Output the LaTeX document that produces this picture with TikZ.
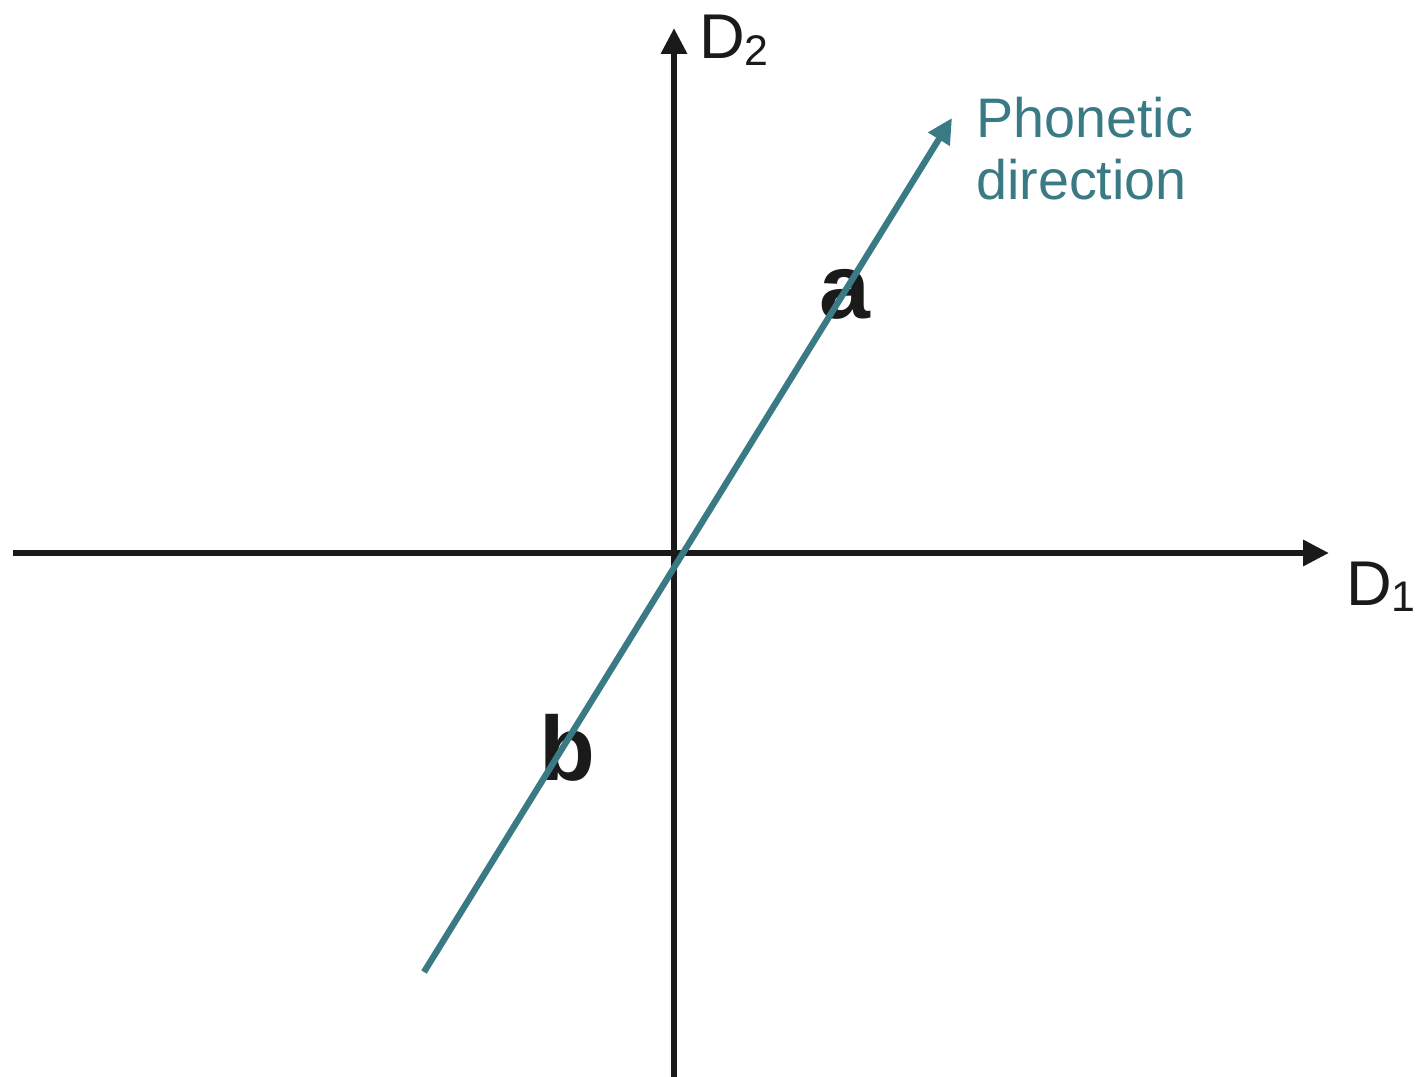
\documentclass[tikz,border=0pt]{standalone}
\usepackage{fontspec}
\setmainfont{Liberation Sans}
\usetikzlibrary{arrows.meta,positioning}
\definecolor{phon}{RGB}{58,122,132}
\definecolor{ink}{RGB}{26,26,26}
\tikzset{
  every picture/.style={line width=3.6pt},
  sAxis/.style={draw=ink, -{Triangle[length=0.52cm,width=0.5cm]}},
  sPhon/.style={draw=phon, -{Triangle[length=0.5cm,width=0.48cm]}},
  sAxisLbl/.style={inner sep=0pt, anchor=base west, text=ink, font=\fontsize{36}{40}\selectfont},
  sDirLbl/.style={inner sep=0pt, anchor=base west, text=phon, align=left,
                  font=\fontsize{31.7}{35.7}\selectfont},
  sSound/.style={inner sep=0pt, text=ink, font=\fontsize{52}{60}\selectfont\bfseries},
}
\newcommand{\axsub}[1]{\raisebox{-0.11em}{\fontsize{24.4}{26}\selectfont #1}}

\begin{document}
\begin{tikzpicture}[x=0.02cm, y=-0.02cm]
  \useasboundingbox (0,0) rectangle (1422,1077);
  % axes
  \coordinate (W) at (13,553);
  \coordinate (E) at (1329,553);
  \coordinate (S) at (674,1077);
  \coordinate (N) at (674,28);
  \draw[sAxis] (W) -- (E);
  \draw[sAxis] (S) -- (N);
  \node[sAxisLbl] (d1) at (1343,605) {D\axsub{1}};
  \node[sAxisLbl] (d2) at (696,59) {D\axsub{2}};
  % sounds, then the direction over them
  \node[sSound] (a) at (845,294) {a};
  \node[sSound] (b) at (567,748) {b};
  \coordinate (B) at (424,972);
  \coordinate (A) at (952,118);
  \draw[sPhon] (B) -- (A);
  \node[sDirLbl] (phon) at (973,200) {Phonetic\\direction};
\end{tikzpicture}
\end{document}
